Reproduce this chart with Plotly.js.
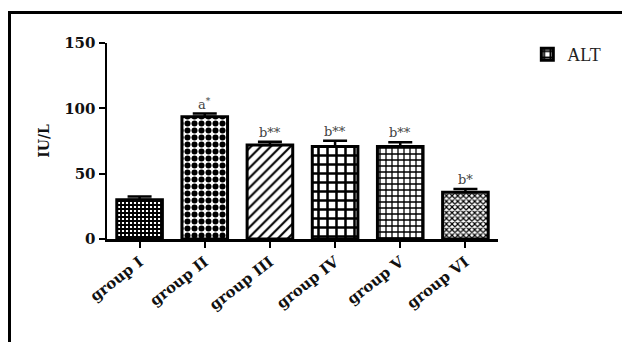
<!DOCTYPE html>
<html>
<head>
<meta charset="utf-8">
<script src="https://cdn.plot.ly/plotly-3.0.1.min.js"></script>
<style>
  html, body { margin: 0; padding: 0; background: #fff; }
  #wrap { position: relative; width: 622px; height: 342px; overflow: hidden; }
  #chart { position: absolute; left: 0; top: 0; width: 622px; height: 342px; }
  #frame { position: absolute; left: 8px; top: 11px; width: 700px; height: 400px;
           border-left: 3px solid #000; border-top: 3px solid #000; pointer-events: none; }
</style>
</head>
<body>
<div id="wrap">
  <div id="chart"></div>
  <div id="frame"></div>
</div>
<script>
// ---- data ----
const groups = ["group I", "group II", "group III", "group IV", "group V", "group VI"];
const altValues = [30, 93.5, 72, 70.7, 70.8, 35.8];
const altErrors = [2.6, 2.5, 2.5, 4.5, 3.3, 2.4];
const sigLabels = ["", "a<sup>*</sup>", "b**", "b**", "b**", "b*"];
const yTicks = [0, 50, 100, 150];
const seriesName = "ALT";

// ---- styles ----
const patShapes = ["+", ".", "/", "+", "+", "x"];
const patSizes = [4, 7, 7, 9, 6, 4];
const patSolid = [0.72, 0.58, 0.3, 0.48, 0.38, 0.5];

const trace = {
  type: "bar",
  name: seriesName,
  x: groups,
  y: altValues,
  width: 0.7,
  marker: {
    color: "#ffffff",
    line: { color: "#000", width: 3 },
    pattern: {
      shape: patShapes,
      size: patSizes,
      solidity: patSolid,
      fgcolor: "#000",
      bgcolor: "#fff",
      fillmode: "replace"
    }
  },
  error_y: {
    type: "data",
    symmetric: false,
    array: altErrors,
    arrayminus: altErrors.map(() => 0),
    color: "#000",
    thickness: 2.5,
    width: 12
  },
  showlegend: true
};

const annotations = groups.map((g, i) => ({
  x: g,
  y: altValues[i] + altErrors[i],
  xref: "x",
  yref: "y",
  text: sigLabels[i],
  showarrow: false,
  yanchor: "bottom",
  yshift: 0,
  font: { family: "DejaVu Serif, serif", size: 13, color: "#444" }
})).filter(a => a.text !== "");

const layout = {
  width: 622,
  height: 342,
  margin: { l: 107, r: 124, t: 43, b: 103 },
  paper_bgcolor: "#fff",
  plot_bgcolor: "#fff",
  showlegend: true,
  legend: {
    x: 1.075, y: 1.035, xanchor: "left", yanchor: "top",
    font: { family: "Liberation Serif, serif", size: 18, color: "#222" },
    bgcolor: "rgba(0,0,0,0)"
  },
  xaxis: {
    type: "category",
    range: [-0.5, 5.5],
    showline: true, linecolor: "#000", linewidth: 2.5,
    ticks: "outside", ticklen: 6, tickwidth: 2, tickcolor: "#000",
    tickangle: -38,
    tickfont: { family: "DejaVu Serif, serif", size: 15, color: "#111", weight: "bold" },
    showgrid: false, zeroline: false, fixedrange: true
  },
  yaxis: {
    range: [0, 150],
    tickvals: yTicks,
    ticktext: yTicks.map(String),
    showline: true, linecolor: "#000", linewidth: 2.5,
    ticks: "outside", ticklen: 6, tickwidth: 2, tickcolor: "#000",
    tickfont: { family: "DejaVu Serif, serif", size: 15, color: "#111", weight: "bold" },
    title: { text: "IU/L", standoff: 12,
             font: { family: "DejaVu Serif, serif", size: 14, color: "#111", weight: "bold" } },
    showgrid: false, zeroline: false, fixedrange: true
  },
  annotations: annotations
};

Plotly.newPlot("chart", [trace], layout, { displayModeBar: false, staticPlot: true });
</script>
</body>
</html>
